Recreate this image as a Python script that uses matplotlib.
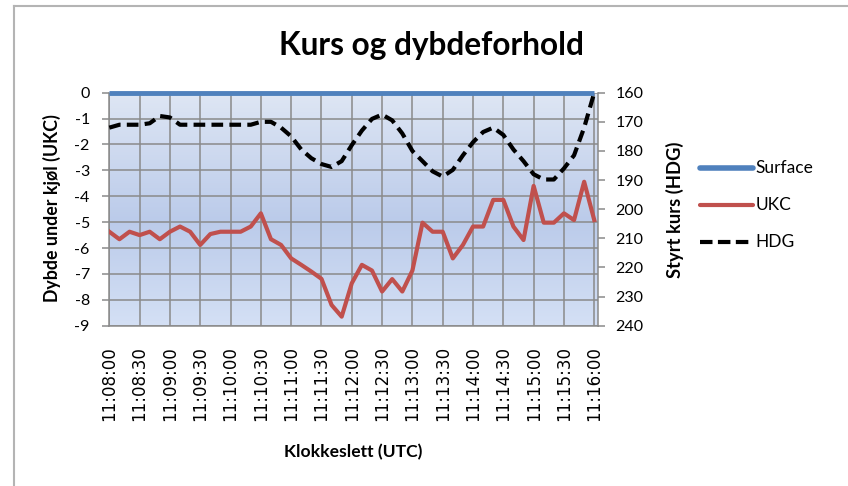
import numpy as np
import matplotlib
matplotlib.use("Agg")
import matplotlib.pyplot as plt
from matplotlib.lines import Line2D

# ---------------- data ----------------
tick_labels = ["11:08:00", "11:08:30", "11:09:00", "11:09:30", "11:10:00", "11:10:30",
               "11:11:00", "11:11:30", "11:12:00", "11:12:30", "11:13:00", "11:13:30",
               "11:14:00", "11:14:30", "11:15:00", "11:15:30", "11:16:00"]

ukc = [-5.37, -5.66, -5.37, -5.50, -5.37, -5.66, -5.37, -5.17, -5.37, -5.88,
       -5.46, -5.37, -5.37, -5.37, -5.17, -4.66, -5.66, -5.88, -6.40, -6.65,
       -6.91, -7.19, -8.20, -8.65, -7.36, -6.65, -6.87, -7.68, -7.20, -7.68,
       -6.87, -5.02, -5.37, -5.37, -6.40, -5.88, -5.17, -5.17, -4.14, -4.14,
       -5.17, -5.69, -3.60, -5.02, -5.02, -4.66, -4.92, -3.44, -4.92]

hdg = [172, 171, 171, 171, 170.5, 168, 168.5, 171, 171, 171,
       171, 171, 171, 171, 171, 170, 170, 172, 175, 179.5,
       182.5, 184.5, 185.5, 183.5, 178, 173, 169, 167.5, 169.5, 174,
       180, 183.5, 187, 188.8, 186.5, 181.5, 177, 173.5, 172, 174.5,
       179.5, 183.5, 188, 189.8, 189.8, 186, 181.5, 172, 160]

surface = [0] * len(ukc)

left_ticks = [0, -1, -2, -3, -4, -5, -6, -7, -8, -9]
right_ticks = [160, 170, 180, 190, 200, 210, 220, 230, 240]

# ---------------- figure ----------------
plt.rcParams['font.family'] = ['Lato', 'DejaVu Sans']
W, H = 848, 486
fig = plt.figure(figsize=(W / 100, H / 100), dpi=100)

L, R, T, B = 109.3, 598.3, 92.7, 325.7
pos = [L / W, 1 - B / H, (R - L) / W, (B - T) / H]

# gradient background of plot area
bg = fig.add_axes(pos, zorder=0)
stops_y = [0.0, 0.55, 1.0]
stops_c = np.array([[222, 230, 244], [187, 203, 234], [212, 224, 245]]) / 255.0
yy = np.linspace(0, 1, 256)
grad = np.stack([np.interp(yy, stops_y, stops_c[:, k]) for k in range(3)], axis=-1)
bg.imshow(grad[:, None, :], aspect='auto', extent=[0, 1, 0, 1])
bg.axis('off')

ax = fig.add_axes(pos, zorder=1)
ax.patch.set_visible(False)
ax2 = ax.twinx()
ax2.set_zorder(2)
ax2.patch.set_visible(False)

x = np.arange(len(ukc))
gridc = '#8a8a8a'

ax.plot(x, surface, color='#4f81bd', lw=3.5, clip_on=False, solid_capstyle='butt', zorder=4)
ax.plot(x, ukc, color='#c0504d', lw=3.0, solid_joinstyle='round', zorder=3)
ax2.plot(x, hdg, color='black', lw=3.0, dashes=(2.8, 1.5), clip_on=False)

ax.set_xlim(0, 48.4)
ax.set_ylim(-9, 0)
ax.set_yticks(left_ticks)
ax.set_yticklabels([str(v) for v in left_ticks])
ax.set_xticks(np.arange(0, len(ukc), 3))
ax.set_xticklabels(tick_labels, rotation=90, fontfamily='DejaVu Sans', fontsize=12, va='top')
ax.set_axisbelow(True)
ax.grid(True, color=gridc, lw=1.1)

ax2.set_ylim(240, 160)
ax2.set_yticks(right_ticks)
ax2.set_yticklabels([str(v) for v in right_ticks])

for a in (ax, ax2):
    for s in a.spines.values():
        s.set_visible(False)
ax.spines['left'].set_visible(True)
ax.spines['bottom'].set_visible(True)
ax2.spines['right'].set_visible(True)
for s in (ax.spines['left'], ax.spines['bottom'], ax2.spines['right']):
    s.set_color(gridc)
    s.set_linewidth(1.1)

ax.tick_params(axis='y', length=5, width=1.1, color=gridc, pad=9, labelsize=11.5)
ax.tick_params(axis='x', length=0, pad=14.5)
ax2.tick_params(axis='y', length=5, width=1.1, color=gridc, pad=7.5, labelsize=11.5)

# ---------------- texts ----------------
def fx(px):
    return px / W

def fy(py):
    return 1 - py / H

fig.text(fx(431.7), fy(55), "Kurs og dybdeforhold", ha='center', va='baseline',
         fontsize=22.8, fontweight='bold')
fig.text(fx(52), fy(208), "Dybde under kjøl (UKC)", ha='center', va='center',
         rotation=90, fontsize=12.8, fontweight='bold')
fig.text(fx(675), fy(210), "Styrt kurs (HDG)", ha='center', va='center',
         rotation=90, fontsize=13.2, fontweight='bold')
fig.text(fx(353.5), fy(452), "Klokkeslett (UTC)", ha='center', va='center',
         fontsize=12.6, fontweight='bold')

# ---------------- legend ----------------
leg = [("Surface", '#4f81bd', 4.0, None, 168),
       ("UKC", '#c0504d', 3.0, None, 205.5),
       ("HDG", 'black', 3.0, (3.0, 1.3), 242)]
for name, col, lw, dash, py in leg:
    ln = Line2D([fx(700), fx(753)], [fy(py), fy(py)], transform=fig.transFigure,
                color=col, lw=lw, solid_capstyle='round' if dash is None else 'butt')
    if dash is not None:
        ln.set_dashes(dash)
    fig.add_artist(ln)
    fig.text(fx(755.5), fy(py), name, ha='left', va='center', fontsize=12.5)

# ---------------- chart frame ----------------
fig.add_artist(Line2D([fx(14), fx(14)], [0, fy(6)], transform=fig.transFigure,
                      color='#b4b4b4', lw=1.5))
fig.add_artist(Line2D([fx(14), 1], [fy(6), fy(6)], transform=fig.transFigure,
                      color='#b4b4b4', lw=1.5))

fig.savefig("out.png", dpi=100)
